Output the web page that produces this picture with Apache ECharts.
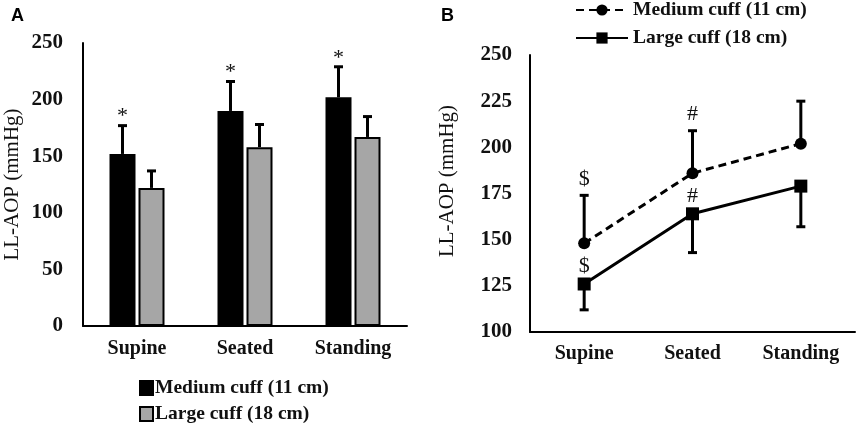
<!DOCTYPE html>
<html>
<head>
<meta charset="UTF-8">
<title>LL-AOP by cuff size</title>
<script src="https://cdn.jsdelivr.net/npm/echarts@6/dist/echarts.min.js"></script>
<style>
html,body{height:100%;margin:0;width:100%;background:#fff;}
#main{width:858px;height:434px;}
</style>
</head>
<body>
<div id="main"></div>
<script>
// panel A: bars (mean) with upward SD
var categories = ['Supine', 'Seated', 'Standing'];
var barMedium = [152, 190, 202];
var barMediumSd = [25, 26, 27];
var barLarge = [122, 158, 167];
var barLargeSd = [15, 20, 18];
var barMediumMarks = ['*', '*', '*'];
var barLargeMarks = ['', '', ''];

// panel B: lines (mean), medium SD up, large SD down
var lineMedium = [148, 186, 202];
var lineMediumSd = [26, 23, 23];
var lineLarge = [126, 164, 179];
var lineLargeSd = [14, 21, 22];
var lineMediumMarks = ['$', '#', ''];
var lineLargeMarks = ['$', '#', ''];

var serif = '"Liberation Serif", "Times New Roman", serif';
var barW = 26;
var barGapPx = 3;

function errData(values, sd, dir) {
    return values.map(function (v, i) { return [i, v, sd[i], dir]; });
}

// draws the error line, its cap and the significance mark
function errorItem(offset, marks, markFn) {
    return function (params, api) {
        var i = api.value(0), v = api.value(1), sd = api.value(2), dir = api.value(3);
        var p = api.coord([i, v]);
        var q = api.coord([i, v + dir * sd]);
        var x = p[0] + offset;
        var st = { stroke: '#000', lineWidth: 3 };
        var children = [
            { type: 'line', shape: { x1: x, y1: p[1], x2: x, y2: q[1] }, style: st },
            { type: 'line', shape: { x1: x - 4.5, y1: q[1], x2: x + 4.5, y2: q[1] }, style: st }
        ];
        var m = marks[i];
        if (m) {
            children.push({
                type: 'text', x: x, y: markFn(p[1], q[1]),
                style: { text: m, font: '22px ' + serif, fill: '#111', align: 'center', verticalAlign: 'middle' }
            });
        }
        return { type: 'group', children: children };
    };
}

var off = (barW + barGapPx) / 2;
var chart = echarts.init(document.getElementById('main'));

var axisLine = { show: true, lineStyle: { color: '#000', width: 2 } };
var tickFont = { color: '#111', fontFamily: serif, fontWeight: 'bold', fontSize: 21 };
var catFont = { color: '#111', fontFamily: serif, fontWeight: 'bold', fontSize: 20 };

chart.setOption({
    animation: false,
    title: [
        { text: 'A', left: 6, top: 2, textStyle: { fontFamily: 'Arial, "Liberation Sans"', fontWeight: 'bold', fontSize: 18, color: '#000' } },
        { text: 'B', left: 436, top: 2, textStyle: { fontFamily: 'Arial, "Liberation Sans"', fontWeight: 'bold', fontSize: 18, color: '#000' } }
    ],
    legend: [
        {
            orient: 'vertical', left: 139, top: 378, height: 60, itemGap: 6, padding: 0,
            itemWidth: 13, itemHeight: 14, icon: 'rect',
            data: ['Medium cuff (11 cm) ', 'Large cuff (18 cm) '],
            textStyle: { fontFamily: serif, fontWeight: 'bold', fontSize: 19.5, color: '#111', padding: [0, 0, 0, -3] }
        },
        {
            orient: 'vertical', left: 575, top: 0, height: 60, itemGap: 8, padding: 0,
            itemWidth: 52, itemHeight: 14,
            data: ['Medium cuff (11 cm)', 'Large cuff (18 cm)'],
            textStyle: { fontFamily: serif, fontWeight: 'bold', fontSize: 19.5, color: '#111' }
        }
    ],
    grid: [
        { left: 83, right: 451, top: 43, bottom: 108, outerBoundsMode: 'none' },
        { left: 530, right: 3, top: 55, bottom: 102, outerBoundsMode: 'none' }
    ],
    xAxis: [
        {
            gridIndex: 0, type: 'category', data: categories,
            axisLine: axisLine, axisTick: { show: false },
            axisLabel: Object.assign({ margin: 13 }, catFont)
        },
        {
            gridIndex: 1, type: 'category', data: categories,
            axisLine: axisLine, axisTick: { show: false },
            axisLabel: Object.assign({ margin: 12 }, catFont)
        }
    ],
    yAxis: [
        {
            gridIndex: 0, type: 'value', min: 0, max: 250, interval: 50,
            axisLine: axisLine, axisTick: { show: false }, splitLine: { show: false },
            axisLabel: Object.assign({ margin: 20 }, tickFont),
            name: 'LL-AOP (mmHg)', nameLocation: 'middle', nameGap: 60, nameRotate: 90,
            nameTextStyle: { fontFamily: serif, fontSize: 21, color: '#111' }
        },
        {
            gridIndex: 1, type: 'value', min: 100, max: 250, interval: 25,
            axisLine: axisLine, axisTick: { show: false }, splitLine: { show: false },
            axisLabel: Object.assign({ margin: 18 }, tickFont),
            name: 'LL-AOP (mmHg)', nameLocation: 'middle', nameGap: 72, nameRotate: 90,
            nameTextStyle: { fontFamily: serif, fontSize: 21, color: '#111', padding: [0, 0, 0, 25] }
        }
    ],
    series: [
        {
            name: 'Medium cuff (11 cm) ', type: 'bar', xAxisIndex: 0, yAxisIndex: 0,
            data: barMedium, barWidth: barW, barGap: (barGapPx / barW * 100) + '%',
            itemStyle: { color: '#000', borderColor: '#000', borderWidth: 2 }
        },
        {
            name: 'Large cuff (18 cm) ', type: 'bar', xAxisIndex: 0, yAxisIndex: 0,
            data: barLarge, barWidth: barW,
            itemStyle: { color: '#a6a6a6', borderColor: '#000', borderWidth: 2 }
        },
        {
            type: 'custom', xAxisIndex: 0, yAxisIndex: 0, z: 5,
            data: errData(barMedium, barMediumSd, 1),
            renderItem: errorItem(-off, barMediumMarks, function (p, q) { return q - 9; })
        },
        {
            type: 'custom', xAxisIndex: 0, yAxisIndex: 0, z: 5,
            data: errData(barLarge, barLargeSd, 1),
            renderItem: errorItem(off, barLargeMarks, function (p, q) { return q - 9; })
        },
        {
            name: 'Medium cuff (11 cm)', type: 'line', xAxisIndex: 1, yAxisIndex: 1,
            data: lineMedium, symbol: 'circle', symbolSize: 12,
            lineStyle: { color: '#000', width: 3, type: [8, 5] },
            itemStyle: { color: '#000' }
        },
        {
            name: 'Large cuff (18 cm)', type: 'line', xAxisIndex: 1, yAxisIndex: 1,
            data: lineLarge, symbol: 'rect', symbolSize: 13,
            lineStyle: { color: '#000', width: 3 },
            itemStyle: { color: '#000' }
        },
        {
            type: 'custom', xAxisIndex: 1, yAxisIndex: 1, z: 5,
            data: errData(lineMedium, lineMediumSd, 1),
            renderItem: errorItem(0, lineMediumMarks, function (p, q) { return Math.min(p, q) - 16; })
        },
        {
            type: 'custom', xAxisIndex: 1, yAxisIndex: 1, z: 5,
            data: errData(lineLarge, lineLargeSd, -1),
            renderItem: errorItem(0, lineLargeMarks, function (p, q) { return Math.min(p, q) - 18; })
        }
    ]
});
</script>
</body>
</html>
